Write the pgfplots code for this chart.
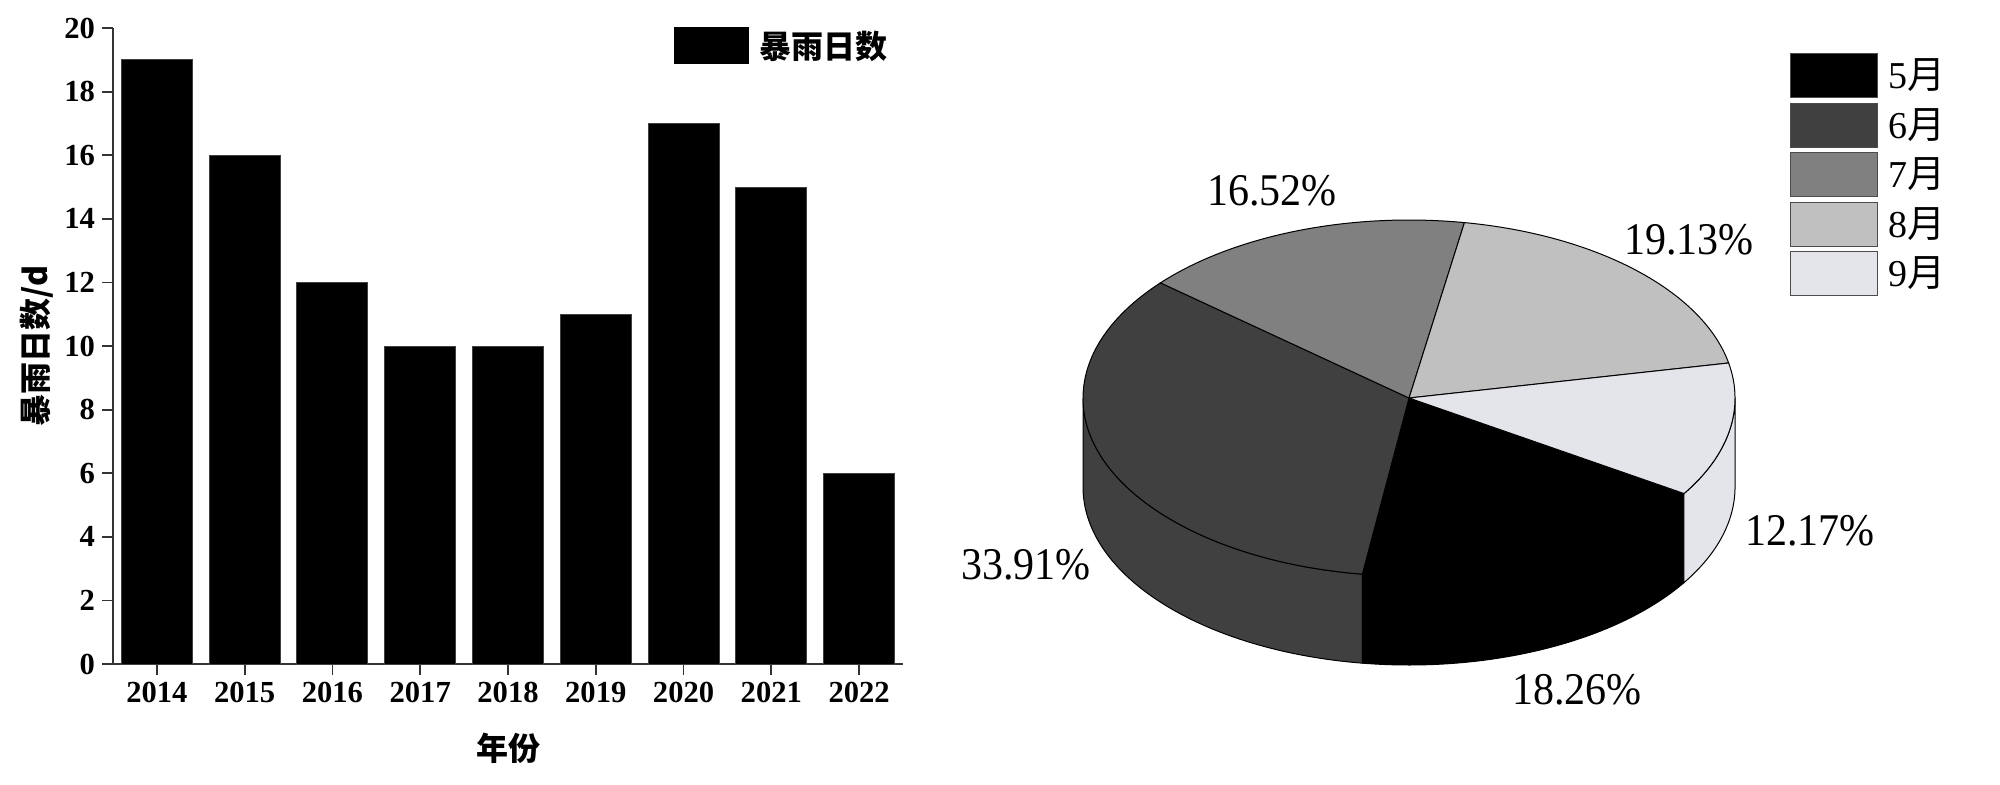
\documentclass[border=0pt]{standalone}
\usepackage{fontspec}
\setmainfont{Liberation Serif}
\newfontfamily\cjk{Noto Sans CJK SC}
\usepackage{pgfplots}
\pgfplotsset{compat=1.18}
\usetikzlibrary{calc}

\definecolor{axgray}{HTML}{333333}
\definecolor{cMay}{HTML}{000000}
\definecolor{cJun}{HTML}{404040}
\definecolor{cJul}{HTML}{808080}
\definecolor{cAug}{HTML}{C0C0C0}
\definecolor{cSep}{HTML}{E3E5EA}

% month shares, per cent
\def\pMay{18.26}
\def\pJun{33.91}
\def\pJul{16.52}
\def\pAug{19.13}
\def\pSep{12.17}

\begin{document}
\begin{tikzpicture}
\path[use as bounding box] (0,0) rectangle (1000pt,392pt);

% slice boundaries, clockwise from the 9/5 edge
\pgfmathsetmacro{\bA}{-32.5}
\pgfmathsetmacro{\bB}{\bA-3.6*\pMay}
\pgfmathsetmacro{\bC}{\bB-3.6*\pJun}
\pgfmathsetmacro{\bD}{\bC-3.6*\pJul}
\pgfmathsetmacro{\bE}{\bD-3.6*\pAug}
\pgfmathsetmacro{\bF}{\bE-3.6*\pSep}
\def\Cx{1409}\def\Cy{386}
\tikzset{pie/.style={x radius=163pt, y radius=89pt},
  pct/.style={font=\fontsize{21}{21}\selectfont, yscale=1.08, transform shape}}

% ---- bar chart ----
\begin{axis}[
  at={(56.5pt,60pt)}, anchor=south west,
  scale only axis, width=395pt, height=318pt,
  xmin=-0.5, xmax=8.5, ymin=0, ymax=20,
  axis lines=left,
  axis line style={-, line width=0.9pt, draw=axgray},
  tick style={line width=0.9pt, draw=axgray},
  tick align=outside, major tick length=5.5pt,
  xtick={0,1,2,3,4,5,6,7,8},
  xticklabels={2014,2015,2016,2017,2018,2019,2020,2021,2022},
  ytick={0,2,...,20},
  /pgf/number format/assume math mode=true,
  ticklabel style={font=\fontsize{15.3}{15.3}\selectfont\bfseries},
  xlabel={\cjk\bfseries 年份},
  ylabel={\cjk\bfseries 暴雨日数/d},
  label style={font=\fontsize{16}{16}\selectfont},
  xlabel style={at={(axis description cs:0.5,-0.132)}, anchor=center},
  ylabel style={at={(axis description cs:-0.0962,0.5)}, anchor=center},
  legend style={draw=none, fill=none, inner sep=0pt,
    at={(axis description cs:0.709,1.0016)}, anchor=north west,
    font=\fontsize{16}{16}\selectfont\cjk\bfseries,
    nodes={inner sep=0pt},
    /tikz/every odd column/.append style={column sep=5.5pt}},
  legend image code/.code={\fill[black] (0pt,-9pt) rectangle (37pt,9pt);},
]
\addplot[ybar, bar width=35.5pt, fill=black, draw=black!75, line width=0.5pt]
  coordinates {(0,19)(1,16)(2,12)(3,10)(4,10)(5,11)(6,17)(7,15)(8,6)};
\addlegendentry{暴雨日数}
\end{axis}

% ---- pie chart ----
\begin{axis}[
  at={(0pt,0pt)}, anchor=south west,
  scale only axis, width=1000pt, height=392pt,
  xmin=0, xmax=2000, ymin=0, ymax=784,
  hide axis, clip=false,
  legend style={draw=none, fill=none, inner sep=0pt,
    at={(axis description cs:0.895,0.9324)}, anchor=north west,
    font=\fontsize{19}{19}\selectfont,
    row sep=2.25pt,
    nodes={inner sep=0pt, text height=17.5pt, text depth=4.5pt},
    /tikz/every odd column/.append style={column sep=5pt}},
  legend cell align=left,
  legend image code/.code={\draw[#1] (0pt,-11pt) rectangle (43.5pt,11pt);},
]
\addlegendimage{fill=cMay, draw=black!70, line width=0.5pt}
\addlegendentry{5{\cjk 月}}
\addlegendimage{fill=cJun, draw=black!70, line width=0.5pt}
\addlegendentry{6{\cjk 月}}
\addlegendimage{fill=cJul, draw=black!70, line width=0.5pt}
\addlegendentry{7{\cjk 月}}
\addlegendimage{fill=cAug, draw=black!70, line width=0.5pt}
\addlegendentry{8{\cjk 月}}
\addlegendimage{fill=cSep, draw=black!70, line width=0.5pt}
\addlegendentry{9{\cjk 月}}

% side walls (front half)
\filldraw[fill=cJun, draw=black, line width=0.5pt]
  (axis cs:\Cx,\Cy) ++(\bB:163pt and 89pt)
  arc[start angle=\bB, end angle=-180, pie]
  -- ++(0pt,-44.5pt)
  arc[start angle=-180, end angle=\bB, pie] -- cycle;
\filldraw[fill=cMay, draw=black, line width=0.5pt]
  (axis cs:\Cx,\Cy) ++(\bA:163pt and 89pt)
  arc[start angle=\bA, end angle=\bB, pie]
  -- ++(0pt,-44.5pt)
  arc[start angle=\bB, end angle=\bA, pie] -- cycle;
\filldraw[fill=cSep, draw=black, line width=0.5pt]
  (axis cs:\Cx,\Cy) ++(0:163pt and 89pt)
  arc[start angle=0, end angle=\bA, pie]
  -- ++(0pt,-44.5pt)
  arc[start angle=\bA, end angle=0, pie] -- cycle;

% top face
\filldraw[fill=cMay, draw=black, line width=0.5pt]
  (axis cs:\Cx,\Cy) -- ++(\bA:163pt and 89pt)
  arc[start angle=\bA, end angle=\bB, pie] -- cycle;
\filldraw[fill=cJun, draw=black, line width=0.5pt]
  (axis cs:\Cx,\Cy) -- ++(\bB:163pt and 89pt)
  arc[start angle=\bB, end angle=\bC, pie] -- cycle;
\filldraw[fill=cJul, draw=black, line width=0.5pt]
  (axis cs:\Cx,\Cy) -- ++(\bC:163pt and 89pt)
  arc[start angle=\bC, end angle=\bD, pie] -- cycle;
\filldraw[fill=cAug, draw=black, line width=0.5pt]
  (axis cs:\Cx,\Cy) -- ++(\bD:163pt and 89pt)
  arc[start angle=\bD, end angle=\bE, pie] -- cycle;
\filldraw[fill=cSep, draw=black, line width=0.5pt]
  (axis cs:\Cx,\Cy) -- ++(\bE:163pt and 89pt)
  arc[start angle=\bE, end angle=\bF, pie] -- cycle;

% percentage labels
\node[pct] at (axis cs:1272,593) {16.52\%};
\node[pct] at (axis cs:1689,544) {19.13\%};
\node[pct] at (axis cs:1810,253) {12.17\%};
\node[pct] at (axis cs:1577,94) {18.26\%};
\node[pct] at (axis cs:1026,219) {33.91\%};
\end{axis}
\end{tikzpicture}
\end{document}
